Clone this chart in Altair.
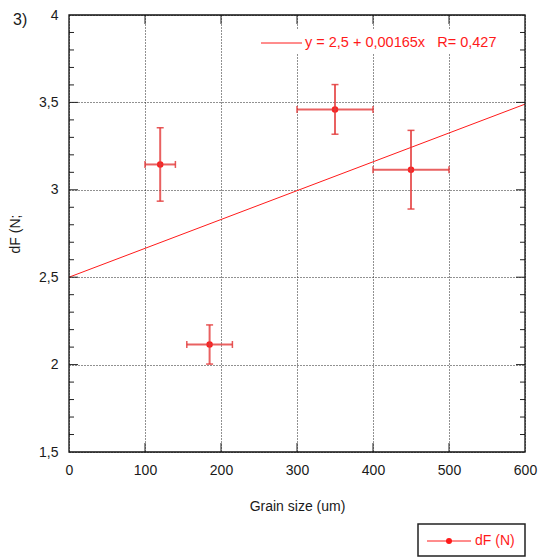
import altair as alt
import pandas as pd

# ---- data ----
grain = [120, 185, 350, 450]          # grain size (um)
grain_err = [20, 30, 50, 50]          # horizontal half-width
dF = [3.145, 2.115, 3.46, 3.115]      # dF (N)
dF_err = [0.21, 0.112, 0.142, 0.225]  # vertical half-height

fit_x = [0, 600]
fit_y = [2.5, 3.49]

x_ticks = [0, 100, 200, 300, 400, 500, 600]
x_inner = [100, 200, 300, 400, 500]
y_ticks = [1.5, 2, 2.5, 3, 3.5, 4]
y_inner = [2, 2.5, 3, 3.5]
y_minor = [1.6, 1.7, 1.8, 1.9, 2.1, 2.2, 2.3, 2.4, 2.6, 2.7, 2.8, 2.9,
           3.1, 3.2, 3.3, 3.4, 3.6, 3.7, 3.8, 3.9]

equation = "y = 2,5 + 0,00165x\u00a0\u00a0\u00a0R= 0,427"
series_name = "dF (N)"
panel_label = "3)"
x_title = "Grain size (um)"
y_title = "dF (N;"

W, H = 456, 437
FONT = "Liberation Sans"
RED = "#ff1a1a"
BAR = "#e33a3a"
TXT = "#1a1a1a"

pts = pd.DataFrame({"gx": grain, "gxe": grain_err, "fy": dF, "fye": dF_err})
pts["glo"] = pts["gx"] - pts["gxe"]
pts["ghi"] = pts["gx"] + pts["gxe"]
pts["flo"] = pts["fy"] - pts["fye"]
pts["fhi"] = pts["fy"] + pts["fye"]

fit = pd.DataFrame({"x": fit_x, "y": fit_y})

xs = alt.Scale(domain=[0, 600], nice=False, zero=False)
ys = alt.Scale(domain=[1.5, 4], nice=False, zero=False)

GRID = dict(grid=True, gridDash=[1, 2], gridColor="#222", gridOpacity=1, gridWidth=1)

x_axis = alt.Axis(values=x_ticks, **GRID, ticks=False, domain=False, labelFlush=False,
                  labelOverlap=False, labelPadding=11, labelFontSize=14,
                  labelColor=TXT, labelFont=FONT, title=x_title, titleFont=FONT,
                  titleFontSize=14, titleFontWeight="normal", titleColor=TXT,
                  titlePadding=22)
y_axis = alt.Axis(values=y_ticks, **GRID, ticks=False, domain=False, labelFlush=False,
                  labelOverlap=False, labelPadding=11, labelFontSize=14,
                  labelColor=TXT, labelFont=FONT,
                  labelExpr="replace(toString(datum.value), '.', ',')",
                  title=y_title, titleFont=FONT, titleFontSize=14,
                  titleFontWeight="normal", titleColor=TXT, titlePadding=16)


def X(f):
    return alt.X(f, scale=xs, axis=x_axis)


def Y(f):
    return alt.Y(f, scale=ys, axis=y_axis)


base = alt.Chart(pts)

points = base.mark_point(filled=True, color=RED, size=42, opacity=1).encode(
    x=X("gx:Q"), y=Y("fy:Q"))

vbar = base.mark_rule(color=BAR, strokeWidth=2, opacity=0.8).encode(
    x=X("gx:Q"), y=Y("flo:Q"), y2="fhi:Q")
hbar = base.mark_rule(color=BAR, strokeWidth=2, opacity=0.8).encode(
    x=X("glo:Q"), x2="ghi:Q", y=Y("fy:Q"))
cap_top = base.mark_tick(color=BAR, orient="horizontal", size=7, thickness=1.5, opacity=0.85).encode(
    x=X("gx:Q"), y=Y("fhi:Q"))
cap_bot = base.mark_tick(color=BAR, orient="horizontal", size=7, thickness=1.5, opacity=0.85).encode(
    x=X("gx:Q"), y=Y("flo:Q"))
cap_l = base.mark_tick(color=BAR, orient="vertical", size=7, thickness=1.5, opacity=0.85).encode(
    x=X("glo:Q"), y=Y("fy:Q"))
cap_r = base.mark_tick(color=BAR, orient="vertical", size=7, thickness=1.5, opacity=0.85).encode(
    x=X("ghi:Q"), y=Y("fy:Q"))

fit_line = alt.Chart(fit).mark_line(color=RED, strokeWidth=1).encode(
    x=X("x:Q"), y=Y("y:Q"))

# inward ticks
ymaj = pd.DataFrame({"v": y_inner})
ymin = pd.DataFrame({"v": y_minor})
xmaj = pd.DataFrame({"v": x_inner})
TK = "#222"


def ytick(df, x0, x1):
    return alt.Chart(df).mark_rule(color=TK, strokeWidth=1).encode(
        y=Y("v:Q"), x=alt.value(x0), x2=alt.value(x1))


def xtick(df, y0, y1):
    return alt.Chart(df).mark_rule(color=TK, strokeWidth=1).encode(
        x=X("v:Q"), y=alt.value(y0), y2=alt.value(y1))


ticks = [
    ytick(ymaj, 0, 9), ytick(ymin, 0, 5),
    ytick(ymaj, W - 9, W), ytick(ymin, W - 5, W),
    xtick(xmaj, H - 9, H), xtick(xmaj, 0, 9),
]

one = pd.DataFrame({"t": [0]})

# equation legend inside plot
eq_bg = alt.Chart(one).mark_rect(fill="white").encode(
    x=alt.value(186), x2=alt.value(W - 1), y=alt.value(15), y2=alt.value(39))
eq_line = alt.Chart(one).mark_rule(color=RED, strokeWidth=1).encode(
    x=alt.value(192), x2=alt.value(233), y=alt.value(28))
eq_text = alt.Chart(pd.DataFrame({"t": [equation]})).mark_text(
    align="left", baseline="middle", font=FONT, fontSize=14.5, color=RED).encode(
    x=alt.value(236), y=alt.value(28), text="t:N")

# frame
frame = alt.Chart(one).mark_rect(fillOpacity=0, stroke="#111", strokeWidth=1.3).encode(
    x=alt.value(0), x2=alt.value(W), y=alt.value(0), y2=alt.value(H))

# panel label
label = alt.Chart(pd.DataFrame({"t": [panel_label]})).mark_text(
    align="left", baseline="middle", font=FONT, fontSize=16, color=TXT).encode(
    x=alt.value(-56), y=alt.value(5), text="t:N")

# series legend below plot
lg_box = alt.Chart(one).mark_rect(fill="white", stroke="#222", strokeWidth=1.5).encode(
    x=alt.value(349), x2=alt.value(W), y=alt.value(509), y2=alt.value(541))
lg_line = alt.Chart(one).mark_rule(color=RED, strokeWidth=1).encode(
    x=alt.value(358), x2=alt.value(402), y=alt.value(526))
lg_dot = alt.Chart(one).mark_point(filled=True, color=RED, size=36, opacity=1).encode(
    x=alt.value(380), y=alt.value(526))
lg_text = alt.Chart(pd.DataFrame({"t": [series_name]})).mark_text(
    align="left", baseline="middle", font=FONT, fontSize=14, color=RED).encode(
    x=alt.value(406), y=alt.value(526), text="t:N")

chart = alt.layer(
    points, eq_bg, fit_line, vbar, hbar, cap_top, cap_bot, cap_l, cap_r,
    *ticks, eq_line, eq_text, frame, label, lg_box, lg_line, lg_dot, lg_text,
).properties(
    width=W, height=H,
    padding={"left": 69, "top": 15, "right": 14, "bottom": 106},
    autosize=alt.AutoSizeParams(type="none"),
    background="white",
).configure_view(stroke=None)

chart.save("out.html", embed_options={"renderer": "svg", "actions": False})
